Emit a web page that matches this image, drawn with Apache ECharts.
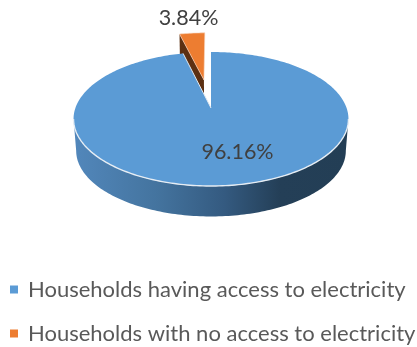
<!DOCTYPE html>
<html>
<head>
<meta charset="utf-8">
<style>html,body{margin:0;padding:0;background:#fff}#chart{width:417px;height:347px}</style>
<script src="https://cdn.jsdelivr.net/npm/echarts@6/dist/echarts.min.js"></script>
</head>
<body>
<div id="chart"></div>
<script>
// Household electricity access, shown as a tilted pie with one pulled-out slice.
const categories = ['Households having access to electricity', 'Households with no access to electricity'];
const shares = [96.16, 3.84];
const sliceColors = ['#5b9bd5', '#ed7d31'];

// Perspective camera for the disc: unit-circle points are projected onto the page.
const view = { cx: 211, cy: 108, sx: 135.6, sy: 65.2, tilt: 0.164 };
const floor = { cy: 140, sx: 133, sy: 63.9 };
const PULL_OUT = 0.465;
const PULLED_RADIUS = 0.96;
const TAU = Math.PI * 2;

function project(u, v, cam) {
  const w = 1 + view.tilt * v;
  return [view.cx + cam.sx * u / w, cam.cy - cam.sy * v / w];
}
// Angles run clockwise from twelve o'clock.
function rim(from, to, cam, off, r) {
  const n = Math.max(2, Math.ceil(Math.abs(to - from) / 0.02));
  const pts = [];
  for (let i = 0; i <= n; i++) {
    const a = from + (to - from) * i / n;
    pts.push(project(off[0] + r * Math.sin(a), off[1] + r * Math.cos(a), cam));
  }
  return pts;
}
function poly(points, style, z2) {
  return { type: 'polygon', z2: z2 || 0, shape: { points: points }, style: style };
}
function line(points, stroke, width, z2) {
  return { type: 'polyline', z2: z2 || 0, shape: { points: points }, style: { stroke: stroke, lineWidth: width, fill: null } };
}
function label(text, x, y) {
  return { type: 'text', z2: 9, style: { text: text, x: x, y: y, fill: '#404040', font: '21.5px Lato', align: 'center', verticalAlign: 'middle' } };
}

function renderMain(params, api) {
  const sweep = api.value(0) / 100 * TAU;
  const sideStart = Math.PI / 2 + Math.asin(view.tilt);
  const sideEnd = TAU - sideStart;
  const centre = project(0, 0, view);
  const frontTop = rim(sideStart, sideEnd, view, [0, 0], 1);
  const frontBottom = rim(sideEnd, sideStart, floor, [0, 0], 1);
  const wall = {
    type: 'linear', x: 0, y: 0, x2: 1, y2: 0,
    colorStops: [
      { offset: 0, color: '#5287bb' },
      { offset: 0.3, color: '#44749f' },
      { offset: 0.55, color: '#345a80' },
      { offset: 0.75, color: '#243f57' },
      { offset: 1, color: '#233e55' }
    ]
  };
  const top = rim(0, sweep, view, [0, 0], 1);
  return {
    type: 'group',
    children: [
      poly(frontTop.concat(frontBottom), { fill: wall }, 1),
      poly([centre].concat(top), { fill: api.visual('color') }, 2),
      line(frontTop, '#e6edf4', 1.4, 3),
      line([centre, top[top.length - 1]], '#dfe8f1', 1, 3),
      label(api.value(0).toFixed(2) + '%', 237.5, 152)
    ]
  };
}

function renderPulled(params, api) {
  const sweep = api.value(0) / 100 * TAU;
  const mid = TAU - sweep / 2;
  const off = [PULL_OUT * Math.sin(mid), PULL_OUT * Math.cos(mid)];
  const start = TAU - sweep;
  const apex = project(off[0], off[1], view);
  const apexLow = project(off[0], off[1], floor);
  const outer = project(off[0] + PULLED_RADIUS * Math.sin(start), off[1] + PULLED_RADIUS * Math.cos(start), view);
  const outerLow = project(off[0] + PULLED_RADIUS * Math.sin(start), off[1] + PULLED_RADIUS * Math.cos(start), floor);
  return {
    type: 'group',
    children: [
      poly([apex, outer, outerLow, apexLow], { fill: '#5c3012' }, 1),
      poly([apex].concat(rim(start, TAU, view, off, PULLED_RADIUS)), { fill: api.visual('color'), stroke: '#f6d9c4', lineWidth: 0.6 }, 2),
      label(api.value(0).toFixed(2) + '%', 188.5, 18)
    ]
  };
}

const chart = echarts.init(document.getElementById('chart'), null, { renderer: 'canvas' });
chart.setOption({
  backgroundColor: '#fff',
  animation: false,
  legend: {
    data: categories,
    orient: 'vertical',
    left: 10,
    top: 277,
    padding: 0,
    itemGap: 19,
    itemWidth: 8,
    itemHeight: 8,
    icon: 'rect',
    selectedMode: false,
    textStyle: { color: '#595959', fontFamily: 'Lato', fontSize: 22, lineHeight: 25, padding: [0, 0, 0, 5] }
  },
  series: [
    { type: 'custom', name: categories[1], coordinateSystem: 'none', z: 2, silent: true,
      itemStyle: { color: sliceColors[1] }, data: [[shares[1]]], renderItem: renderPulled },
    { type: 'custom', name: categories[0], coordinateSystem: 'none', z: 3, silent: true,
      itemStyle: { color: sliceColors[0] }, data: [[shares[0]]], renderItem: renderMain }
  ]
});
</script>
</body>
</html>
